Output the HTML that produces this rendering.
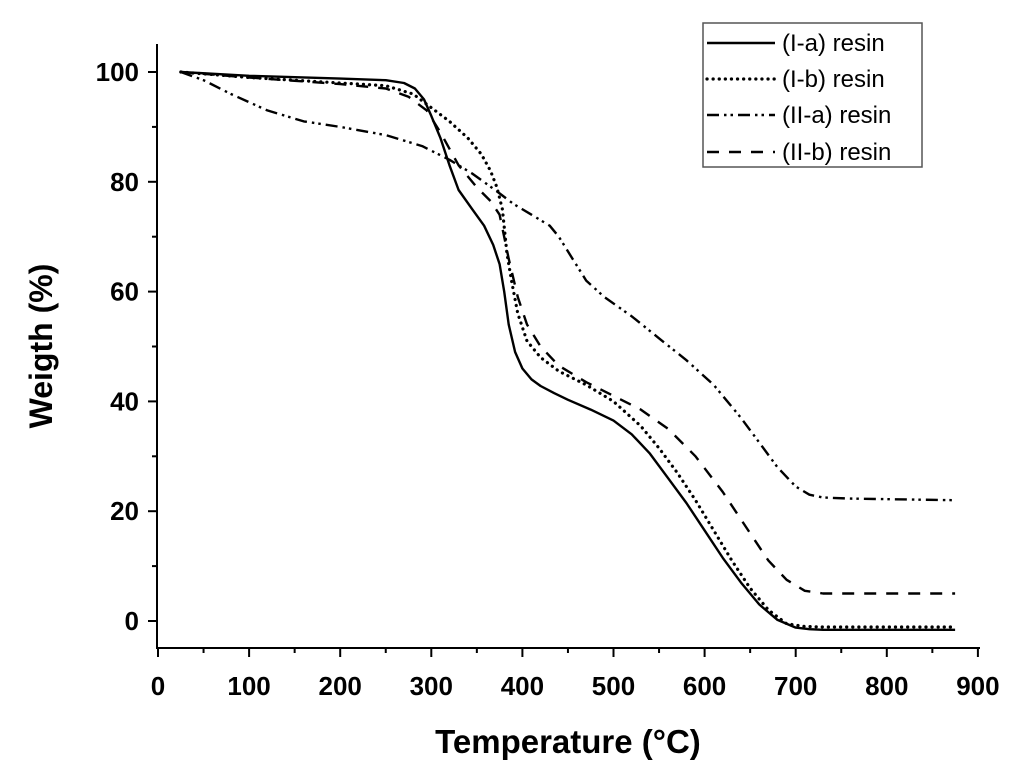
<!DOCTYPE html>
<html><head><meta charset="utf-8"><style>
html,body{margin:0;padding:0;background:#fff;}
svg{display:block;font-family:"Liberation Sans",Arial,sans-serif;}
</style></head><body>
<svg id="chart" width="1024" height="777" viewBox="0 0 1024 777">
<g id="axes"></g><g id="series"></g><g id="legend"></g>
</svg>
<script>
const xTicks=[0,100,200,300,400,500,600,700,800,900];
const yTicks=[0,20,40,60,80,100];
const seriesNames=["(I-a) resin","(I-b) resin","(II-a) resin","(II-b) resin"];
const ia_T=[25,100,200,250,270,282,292,300,310,320,330,345,358,368,375,380,385,392,400,410,420,435,450,475,500,520,540,560,580,600,620,640,660,680,700,715,730,875];
const ia_W=[100,99.3,98.8,98.5,98,97,95,92,88,83,78.5,75,72,68.5,65,60,54,49,46,44,42.8,41.5,40.3,38.5,36.5,34,30.5,26,21.5,16.5,11.5,7,3,0.2,-1.2,-1.5,-1.6,-1.6];
const ib_T=[25,100,200,250,280,300,320,340,355,365,372,378,383,388,395,405,420,440,470,500,530,550,570,590,610,630,650,670,690,710,730,875];
const ib_W=[100,99,98,97.5,96,93.5,91,88,85,82,79,75,67,62,56,51,48,45.5,43,40,35.5,31.5,27,22,16.5,11,6,2,-0.5,-1,-1.1,-1.1];
const iia_T=[25,50,80,120,160,200,250,290,320,345,370,390,410,430,440,455,470,490,520,550,580,610,640,660,680,700,715,730,760,875];
const iia_W=[100,98.5,96,93,91,90,88.5,86.5,84,81.5,78.5,76,74,72,70,66,62,59,55.5,51.5,47.5,43,37,32.5,28,24.5,23,22.5,22.3,22];
const iib_T=[25,100,200,250,275,295,310,330,350,365,375,385,395,405,420,440,470,500,530,560,590,620,650,670,690,710,730,760,875];
const iib_W=[100,99,97.8,97,95.5,93,89,83,79,76.5,74,66,59,54,50,46.5,43.5,41,38.5,35,30,23.5,16,11,7.5,5.5,5,5,5];
const dashes=["none","2.5,5","12,5,2.5,4,2.5,5","12,10"];
const X0=158,XS=91.1/100,Y0=621,YS=549/100;
function sx(v){return X0+v*XS;}
function sy(v){return Y0-v*YS;}
const NS="http://www.w3.org/2000/svg";
function mk(t,a,p){const e=document.createElementNS(NS,t);for(const k in a)e.setAttribute(k,a[k]);p.appendChild(e);return e;}
const ax=document.getElementById('axes');
let e=mk('line',{x1:157,y1:44,x2:157,y2:649,stroke:'#000','stroke-width':2},ax);


e=mk('line',{x1:156,y1:648,x2:980,y2:648,stroke:'#000','stroke-width':2},ax);


for(let v=0;v<=900;v+=50){const x=sx(v);const major=v%100===0;
 const t=mk('line',{x1:x,y1:648,x2:x,y2:648+(major?9:5),stroke:'#000','stroke-width':2},ax);
 
 }
xTicks.forEach(v=>{const t=mk('text',{x:sx(v),y:695,'text-anchor':'middle','font-size':26,'font-weight':'bold'},ax);t.textContent=v;
 
 });
for(let v=0;v<=100;v+=10){const y=sy(v);const major=v%20===0;
 const t=mk('line',{x1:157-(major?9:5),y1:y,x2:157,y2:y,stroke:'#000','stroke-width':2},ax);
 
 }
yTicks.forEach(v=>{const t=mk('text',{x:139,y:sy(v)+9,'text-anchor':'end','font-size':26,'font-weight':'bold'},ax);t.textContent=v;
 
 });
let tt=mk('text',{x:568,y:753,'text-anchor':'middle','font-size':33,'font-weight':'bold'},ax);tt.textContent='Temperature (°C)';


tt=mk('text',{x:0,y:0,'text-anchor':'middle','font-size':32,'font-weight':'bold',transform:'translate(52,346) rotate(-90)'},ax);tt.textContent='Weigth (%)';


const sg=document.getElementById('series');
const data=[[ia_T,ia_W],[ib_T,ib_W],[iia_T,iia_W],[iib_T,iib_W]];
const ids=['series-i-a','series-i-b','series-ii-a','series-ii-b'];
data.forEach((d,i)=>{const pts=d[0].map((t,j)=>sx(t).toFixed(1)+','+sy(d[1][j]).toFixed(1)).join(' ');
 const a={points:pts,fill:'none',stroke:'#000','stroke-width':i==1?3.2:2.4,'stroke-linejoin':'round','stroke-linecap':i==1?'round':'butt'};
 if(dashes[i]!=='none')a['stroke-dasharray']=i==1?'0.1,6':dashes[i];
 const p=mk('polyline',a,sg);
 
 });
const lg=document.getElementById('legend');
let r=mk('rect',{x:703,y:23,width:219,height:144,fill:'#fff',stroke:'#555','stroke-width':1.5},lg);


const ly=[43,79,115,152];
seriesNames.forEach((n,i)=>{const a={x1:707,y1:ly[i],x2:775,y2:ly[i],stroke:'#000','stroke-width':i==1?3.2:2.4,'stroke-linecap':i==1?'round':'butt'};
 if(dashes[i]!=='none')a['stroke-dasharray']=i==1?'0.1,6':dashes[i];
 const l=mk('line',a,lg);
 
 
 const t=mk('text',{x:782,y:ly[i]+8,'font-size':24},lg);t.textContent=n;
 
 });
</script>
</body></html>
